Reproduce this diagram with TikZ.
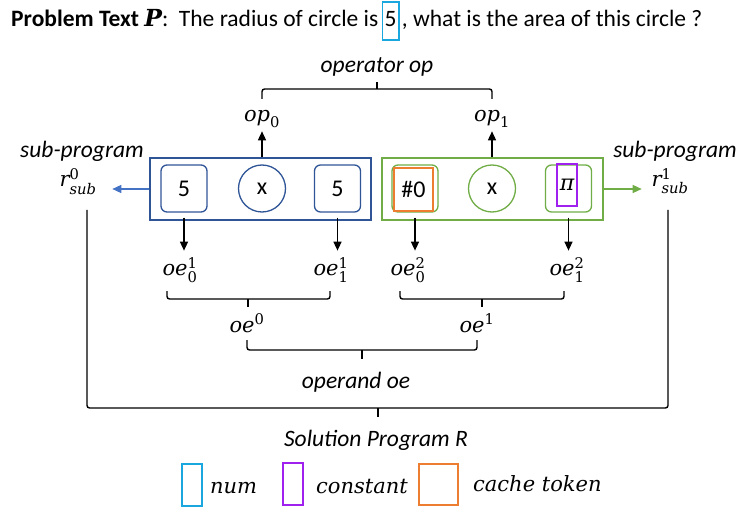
\documentclass[tikz,border=0pt]{standalone}
\usepackage{fontspec}
\usepackage{amsmath}
\setmainfont{Carlito}
\newfontfamily\mifont{DejaVu Serif}
\usetikzlibrary{arrows.meta}

\definecolor{grpblue}{HTML}{2F5597}
\definecolor{arrblue}{HTML}{4472C4}
\definecolor{grpgreen}{HTML}{70AD47}
\definecolor{numcyan}{HTML}{1AA7E0}
\definecolor{constpurple}{HTML}{A020F0}
\definecolor{cacheorange}{HTML}{ED7D31}

% italic / upright math-like pieces
\newcommand\mi[1]{\text{\mifont\itshape #1}}
\newcommand\md[1]{\text{\mifont #1}}

\begin{document}
\begin{tikzpicture}[x=1pt,y=-1pt,
  lbl/.style={font=\fontsize{23.5}{27}\selectfont, inner sep=0pt},
  mlbl/.style={font=\fontsize{21}{25}\selectfont, inner sep=0pt, anchor=base},
  ilbl/.style={font=\fontsize{23.5}{27}\selectfont\itshape, inner sep=0pt, anchor=base},
  grp/.style={line width=1.4pt, minimum width=221pt, minimum height=62pt, inner sep=0pt},
  slot/.style={rounded corners=6pt, line width=1.3pt, minimum width=46pt, minimum height=47pt,
    inner sep=0pt, font=\fontsize{24}{27}\selectfont},
  opnode/.style={circle, line width=1.3pt, minimum size=47pt, inner sep=0pt,
    font=\fontsize{24}{27}\selectfont},
  tok/.style={line width=1.5pt, inner sep=0pt},
  arr/.style={line width=1.4pt, -{Triangle[length=9pt,width=8pt]}},
  brk/.style={line width=1.4pt, rounded corners=2.5pt},
]
\useasboundingbox (0,0) rectangle (739,513);

% problem statement
\node[lbl, anchor=base west] (ptA) at (11,27)
  {\textbf{Problem Text }{\mifont\bfseries\itshape P}:\ \ The radius of circle is};
\node[draw=numcyan, line width=1.3pt, anchor=base west, inner xsep=2.5pt, inner ysep=0pt,
  text height=25pt, text depth=13pt, font=\fontsize{23.5}{27}\selectfont]
  (n5) at ([xshift=3pt]ptA.base east) {5};
\node[lbl, anchor=base west] (ptB) at ([xshift=2pt]n5.base east)
  {, what is the area of this circle ?};

% operator bracket
\node[ilbl] (oplab) at (377,73) {operator op};
\draw[brk] (262,99) |- (492,89) -- (492,99);
\draw[brk] (377,89) -- (377,82);
\node[mlbl] (op0) at (262,122) {$\mi{op}_{\md{0}}$};
\node[mlbl] (op1) at (492,122) {$\mi{op}_{\md{1}}$};

% sub-program 0
\node[grp, draw=grpblue] (g0) at (260.5,189) {};
\node[slot, draw=grpblue] (a5) at (184,188.5) {5};
\node[opnode, draw=grpblue] (ax) at (262,188.5) {x};
\node[slot, draw=grpblue] (b5) at (337.5,188.5) {5};

% sub-program 1
\node[grp, draw=grpgreen] (g1) at (492.5,189) {};
\node[slot, draw=grpgreen] (c0) at (415,188.5) {};
\node[tok, draw=cacheorange, minimum width=39pt, minimum height=43pt,
  font=\fontsize{24}{27}\selectfont] (c0tok) at (413.5,189.5) {\#0};
\node[opnode, draw=grpgreen] (cx) at (492,188.5) {x};
\node[slot, draw=grpgreen] (cpi) at (568.5,188.5) {};
\node[tok, draw=constpurple, minimum width=20pt, minimum height=42pt,
  font=\fontsize{22}{26}\selectfont] (cpitok) at (567,185) {\mifont\itshape π};

% operators up
\draw[arr] (ax |- g0.north) -- ++(0,-26);
\draw[arr] (cx |- g1.north) -- ++(0,-26);

% sub-program outputs
\node[ilbl] (sp0) at (82,158) {sub-program};
\node[mlbl] (r0) at (78,187) {$\mi{r}^{\md{0}}_{\mi{sub}}$};
\node[ilbl] (sp1) at (675,158) {sub-program};
\node[mlbl] (r1) at (670,187) {$\mi{r}^{\md{1}}_{\mi{sub}}$};
\draw[line width=1.3pt, arrblue, -{Triangle[length=9pt,width=8pt]}] (g0.west) -- ++(-37,0);
\draw[line width=1.3pt, grpgreen, -{Triangle[length=9pt,width=8pt]}] (g1.east) -- ++(38,0);

% operands down
\draw[arr] ([yshift=-5pt]a5.south) -- ++(0,33);
\draw[arr] ([yshift=-5pt]b5.south) -- ++(0,33);
\draw[arr] ([yshift=-5pt]c0.south) -- ++(0,33);
\draw[arr] ([yshift=-5pt]cpi.south) -- ++(0,33);

\node[mlbl] (oe01) at (180,276) {$\mi{oe}^{\md{1}}_{\md{0}}$};
\node[mlbl] (oe11) at (331,276) {$\mi{oe}^{\md{1}}_{\md{1}}$};
\node[mlbl] (oe02) at (408,276) {$\mi{oe}^{\md{2}}_{\md{0}}$};
\node[mlbl] (oe12) at (567,276) {$\mi{oe}^{\md{2}}_{\md{1}}$};

\draw[brk] (167,291) |- (330,299) -- (330,291);
\draw[brk] (248,299) -- (248,307);
\draw[brk] (400,291) |- (564,299) -- (564,291);
\draw[brk] (482,299) -- (482,307);

\node[mlbl] (oe0) at (247,332) {$\mi{oe}^{\md{0}}$};
\node[mlbl] (oe1) at (477,332) {$\mi{oe}^{\md{1}}$};

\draw[brk] (247,340) |- (477,350) -- (477,340);
\draw[brk] (362,350) -- (362,359);
\node[ilbl] (oplbl) at (356,388) {operand oe};

% whole program
\draw[brk] (87,210) |- (668,408) -- (668,210);
\draw[brk] (378,408) -- (378,417);
\node[ilbl] (solR) at (376,446) {Solution Program R};

% legend
\node[tok, draw=numcyan, minimum width=20pt, minimum height=42pt] (lg1) at (192,485) {};
\node[mlbl, anchor=base west] (lt1) at (210,493) {$\mi{num}$};
\node[tok, draw=constpurple, minimum width=20pt, minimum height=42pt] (lg2) at (293,484) {};
\node[mlbl, anchor=base west] (lt2) at (316,493) {$\mi{constant}$};
\node[tok, draw=cacheorange, minimum width=39pt, minimum height=41pt] (lg3) at (438.5,484.5) {};
\node[mlbl, anchor=base west] (lt3) at (473,491) {$\mi{cache token}$};
\end{tikzpicture}
\end{document}
